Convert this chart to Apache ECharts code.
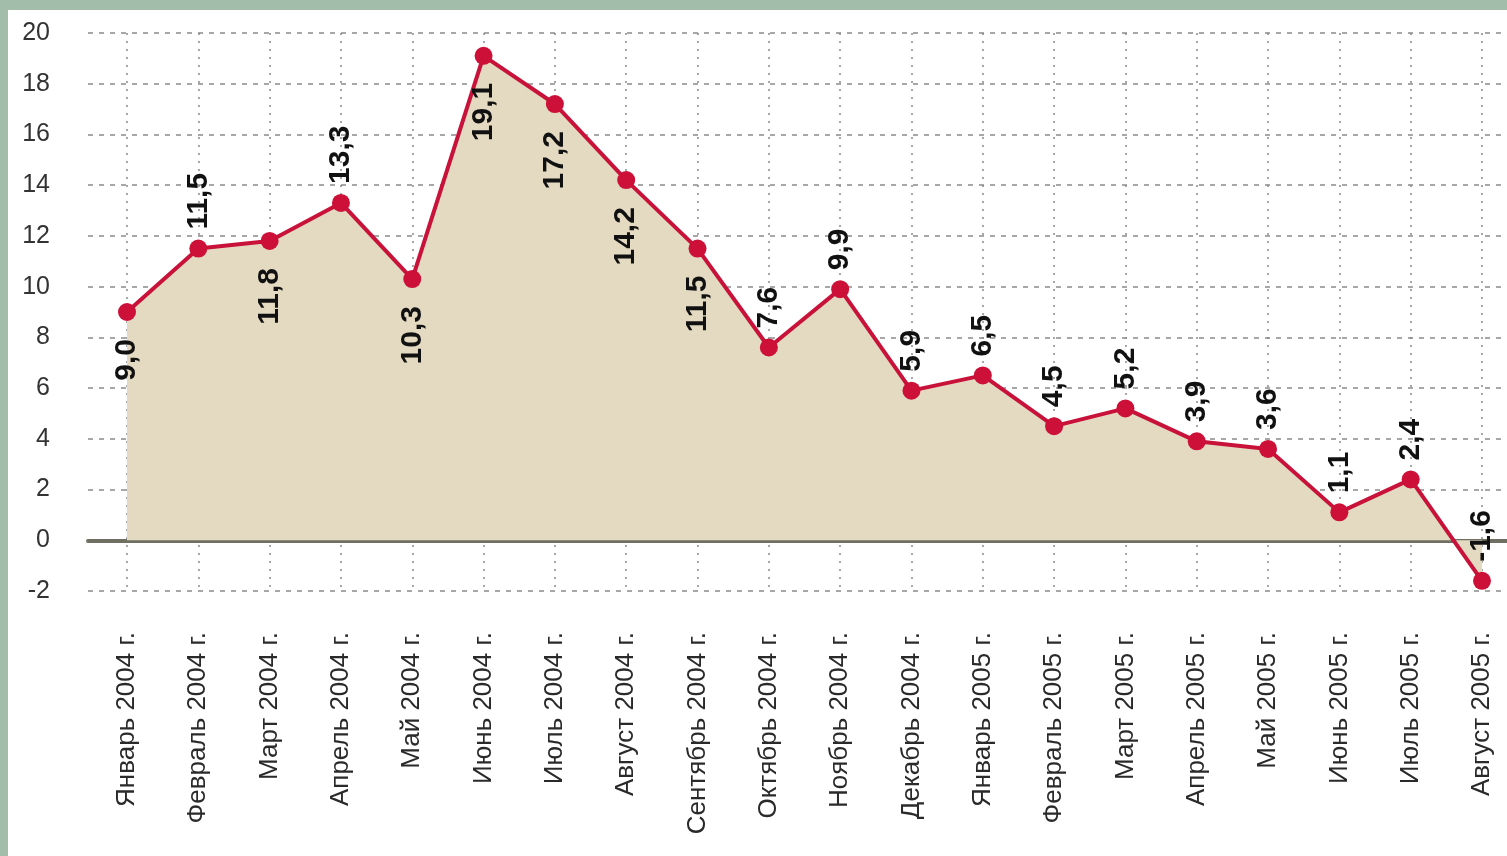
<!DOCTYPE html>
<html>
<head>
<meta charset="utf-8">
<script src="https://cdn.jsdelivr.net/npm/echarts@6/dist/echarts.min.js"></script>
<style>
	html, body { margin: 0; padding: 0; background: #a3bdab; }
	#paper { position: absolute; left: 8px; top: 10px; width: 1499px; height: 846px; background: #ffffff; }
	#chart { position: absolute; left: 0; top: 0; width: 1507px; height: 856px; }
</style>
</head>
<body>
<div id="paper"></div>
<div id="chart"></div>
<script>
	// месяцы
	const months = ['Январь 2004 г.', 'Февраль 2004 г.', 'Март 2004 г.', 'Апрель 2004 г.', 'Май 2004 г.',
		'Июнь 2004 г.', 'Июль 2004 г.', 'Август 2004 г.', 'Сентябрь 2004 г.', 'Октябрь 2004 г.',
		'Ноябрь 2004 г.', 'Декабрь 2004 г.', 'Январь 2005 г.', 'Февраль 2005 г.', 'Март 2005 г.',
		'Апрель 2005 г.', 'Май 2005 г.', 'Июнь 2005 г.', 'Июль 2005 г.', 'Август 2005 г.']
	const values = [9.0, 11.5, 11.8, 13.3, 10.3, 19.1, 17.2, 14.2, 11.5, 7.6,
		9.9, 5.9, 6.5, 4.5, 5.2, 3.9, 3.6, 1.1, 2.4, -1.6]
	const yTicks = { min: -2, max: 20, step: 2 }
	// подписи под точкой (остальные над точкой)
	const labelsBelow = [0, 2, 4, 5, 6, 7, 8]

	const font = '"Liberation Sans", Arial, sans-serif'

	let mychart = echarts.init(document.getElementById('chart'))
	let option = {
		backgroundColor: 'transparent',
		animation: false,
		grid: [
			{ left: 88, right: 0, top: 33, bottom: 265 },
			{ left: 127, right: 25, top: 33, bottom: 265 }
		],
		xAxis: [
			{
				gridIndex: 0,
				type: 'value',
				min: 0,
				max: 1,
				axisLine: { show: true, onZero: true, lineStyle: { color: '#6e6e62', width: 4 } },
				axisTick: { show: false },
				axisLabel: { show: false },
				splitLine: { show: false }
			},
			{
				gridIndex: 1,
				type: 'category',
				boundaryGap: false,
				data: months,
				axisLine: { show: false },
				axisTick: { show: false },
				axisLabel: {
					rotate: 90,
					margin: 41,
					interval: 0,
					color: '#2a2a2a',
					fontSize: 26,
					fontFamily: font
				},
				splitLine: {
					show: true,
					lineStyle: { color: '#8a8a8a', width: 1.5, type: [2, 6] }
				}
			}
		],
		yAxis: [
			{
				gridIndex: 0,
				type: 'value',
				min: yTicks.min,
				max: yTicks.max,
				interval: yTicks.step,
				axisLine: { show: false },
				axisTick: { show: false },
				axisLabel: {
					margin: 38,
					color: '#333333',
					fontSize: 25,
					fontFamily: font
				},
				splitLine: {
					show: true,
					lineStyle: { color: '#8a8a8a', width: 1.5, type: [5, 6] }
				}
			},
			{
				gridIndex: 1,
				type: 'value',
				min: yTicks.min,
				max: yTicks.max,
				interval: yTicks.step,
				show: false
			}
		],
		series: [{
			type: 'line',
			xAxisIndex: 1,
			yAxisIndex: 1,
			data: values.map((v, i) => ({
				value: v,
				label: labelsBelow.includes(i)
					? { position: 'bottom', align: 'right', distance: 18 }
					: { position: 'top', align: 'left', distance: 10 }
			})),
			symbol: 'circle',
			symbolSize: 18,
			lineStyle: { color: '#c8123a', width: 4 },
			itemStyle: { color: '#cc1038' },
			areaStyle: { color: '#e4dac2', opacity: 1 },
			label: {
				show: true,
				rotate: 90,
				verticalAlign: 'middle',
				color: '#111111',
				fontSize: 30,
				fontWeight: 'bold',
				fontFamily: font,
				formatter: p => p.value.toFixed(1).replace('.', ',')
			}
		}]
	}
	mychart.setOption(option)
</script>
</body>
</html>
